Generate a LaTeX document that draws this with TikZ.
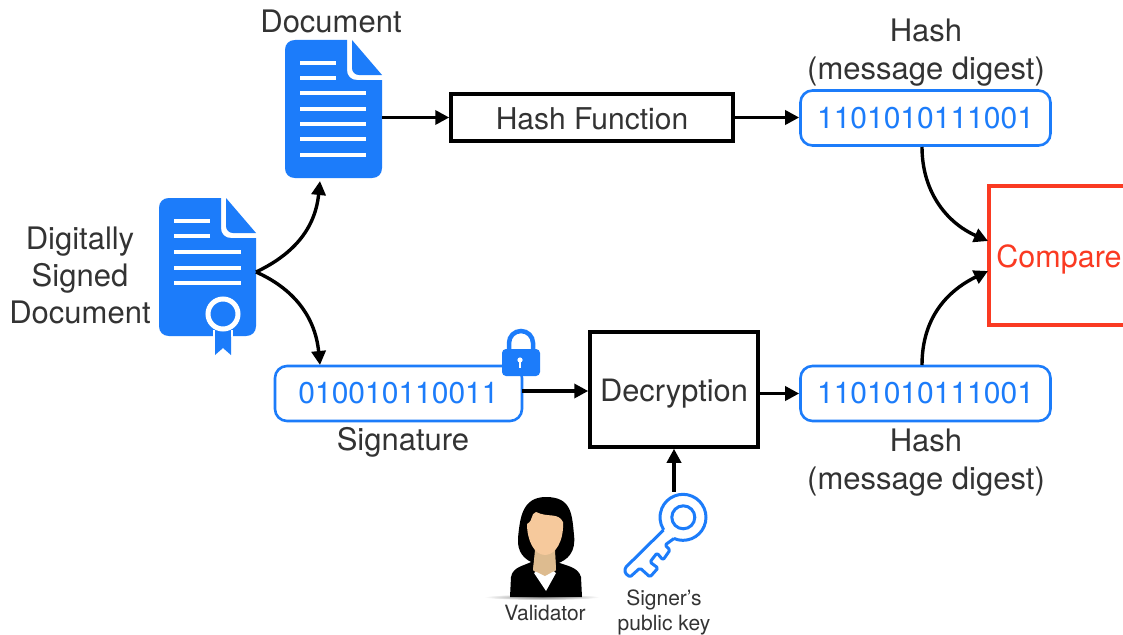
\documentclass[tikz,border=0pt]{standalone}
\usepackage{fontspec}
\setmainfont{TeX Gyre Heros}
\usetikzlibrary{arrows.meta}
\definecolor{iconblue}{HTML}{1C7CFA}
\definecolor{txt}{HTML}{333333}
\definecolor{cmpred}{HTML}{FA3A22}
\definecolor{skin}{HTML}{F6C99C}
\definecolor{neck}{HTML}{DDBB8F}
\tikzset{
  x=1pt,y=-1pt,
  conn/.style={draw=black,line width=3.4pt,-{Triangle[length=14pt,width=14pt]}},
  blackbox/.style={draw=black,line width=3.5pt,inner sep=0pt,text=txt,text height=24pt,text depth=0pt},
  bluebox/.style={draw=iconblue,line width=2.6pt,rounded corners=12pt,inner sep=0pt,minimum height=55pt,minimum width=250pt,text=iconblue,font=\fontsize{30}{30}\selectfont},
  lab/.style={text=txt,align=center,inner sep=0pt,font=\fontsize{31}{38}\selectfont},
  smalllab/.style={text=txt,align=center,inner sep=0pt,font=\fontsize{21}{25}\selectfont},
  iconnode/.style={inner sep=0pt,minimum width=97pt,minimum height=138pt},
  wline/.style={white,line width=3.6pt},
}
\newcommand{\pageicon}[2]{%
 \begin{scope}[shift={(#1,#2)}]
  \fill[iconblue] (0,10) .. controls (0,4) and (4,0) .. (10,0) -- (62,0) -- (62,30) .. controls (62,36) and (66,40) .. (72,40) -- (97,40) -- (97,128) .. controls (97,134) and (93,138) .. (87,138) -- (10,138) .. controls (4,138) and (0,134) .. (0,128) -- cycle;
  \fill[iconblue] (67,0) -- (97,35) -- (74,35) .. controls (70,35) and (67,32) .. (67,28) -- cycle;
  \foreach \y in {23,38}{\draw[wline] (15,\y) -- (51,\y);}
 \end{scope}}
\begin{document}
\begin{tikzpicture}
\useasboundingbox (0,0) rectangle (1123,634);
\fill[white] (0,0) rectangle (1123,634);
% document icon
\node[iconnode] (doc) at (333.5,109) {};
\pageicon{285}{40}
\foreach \y in {93,109,124,139,155}{\draw[wline] (300,\y) -- (366,\y);}
% certificate icon
\node[iconnode] (cert) at (207.5,267) {};
\pageicon{159}{198}
\foreach \y in {252,268,283}{\draw[wline] (174,\y) -- (241,\y);}
\fill[iconblue] (215,325) -- (231,325) -- (231,355) -- (223,348) -- (215,355) -- cycle;
\draw[white,line width=2pt] (214,330) -- (214,337);
\draw[white,line width=2pt] (232,330) -- (232,337);
\draw[white,line width=5pt,fill=iconblue] (223,314) circle[radius=15];
% labels
\node[lab] (ldoc) at (331,21) {Document};
\node[lab,font=\fontsize{31}{37}\selectfont] (lsign) at (80,275.5) {Digitally\\Signed\\Document};
\node[lab] (lh1) at (926,53) {Hash\\(message digest)};
\node[lab] (lsig) at (403,442) {Signature};
\node[lab] (lh2) at (926,463) {Hash\\(message digest)};
% boxes
\node[blackbox,minimum width=282pt,minimum height=47pt,font=\fontsize{30}{30}\selectfont] (hf) at (592,117.5) {Hash Function};
\node[bluebox] (h1) at (925.5,118) {1101010111001};
\node[bluebox,minimum width=247pt] (sig) at (398.5,393.5) {010010110011};
\node[bluebox] (h2) at (925.5,393.5) {1101010111001};
\node[blackbox,minimum width=168pt,minimum height=115pt,font=\fontsize{30.8}{31}\selectfont] (dec) at (674,389.5) {Decryption};
\node[draw=cmpred,line width=3.5pt,minimum width=150pt,minimum height=139pt,inner sep=0pt] (cmp) at (1064,255.5) {};
\node[text=cmpred,inner sep=0pt,font=\fontsize{30.5}{31}\selectfont] (cmpt) at (1059,259) {Compare};
% lock
\node[inner sep=0pt,minimum width=38pt,minimum height=48pt] (lock) at (521,352) {};
\draw[iconblue,line width=4.5pt] (509,352) -- (509,343) arc[start angle=180,end angle=360,radius=12] -- (533,352);
\fill[iconblue,rounded corners=4pt] (502,349) rectangle (540,376);
\fill[white] (520,360) circle[radius=2.6];
\draw[white,line width=1.6pt] (520,360) -- (520,368);
% person
\node[inner sep=0pt,minimum width=72pt,minimum height=100pt] (person) at (546,547) {};
\shade[inner color=black!50,outer color=white] (542,597) ellipse[x radius=58,y radius=3];
\fill[black] (510,597) -- (511,577) .. controls (513,566) and (525,566) .. (535,560) -- (552,560) .. controls (565,566) and (578,566) .. (581,577) -- (582,597) -- cycle;
\fill[black] (546,497) .. controls (522,497) and (520,518) .. (518,538) .. controls (517,552) and (524,560) .. (536,564) -- (556,564) .. controls (568,560) and (576,552) .. (574,535) .. controls (572,515) and (572,497) .. (546,497) -- cycle;
\fill[neck] (535,550) -- (555,550) -- (556,570) -- (545,580) -- (533,570) -- cycle;
\fill[white] (534,573) -- (545,566) -- (556,573) -- (546,591) -- cycle;
\fill[neck] (535,556) -- (555,556) -- (556,570) -- (545,576) -- (533,570) -- cycle;
\fill[skin] (527,524) .. controls (534,520) and (530,514) .. (536,512) .. controls (548,518) and (558,512) .. (563,522) .. controls (564,540) and (556,555) .. (545,555) .. controls (534,555) and (527,540) .. (527,524) -- cycle;
% key
\node[inner sep=0pt,minimum width=82pt,minimum height=90pt] (key) at (665,537) {};
\draw[iconblue,line width=3pt] (683.3,517.3) circle[radius=11.5];
\draw[iconblue,line width=3pt,line join=round,rounded corners=1.5pt] (674,538.5) -- (665,545) -- (670,550) -- (663,560) -- (657,553) -- (650,562) -- (658,568) -- (650,577) -- (640,568) -- (630,577) -- (625,573) -- (625,568) -- (663.5,530);
\draw[iconblue,line width=3pt] (674,538.5) arc[start angle=113,end angle=-213,radius=23];
% labels under icons
\node[smalllab] (lval) at (545,613) {Validator};
\node[smalllab] (lkey) at (664,612) {Signer's\\public key};
% connectors
\coordinate (h1out) at (922,147);
\coordinate (h2out) at (922,365);
\coordinate (in1) at (988,241);
\coordinate (in2) at (988,271);
\coordinate (certout) at (256,272);
\coordinate (sigout) at (522,391);
\draw[conn] (certout) .. controls (292,255) and (315,230) .. (320,181);
\draw[conn] (certout) .. controls (292,288) and (315,315) .. (320,365);
\draw[conn] (doc.east |- hf.west) -- (hf.west);
\draw[conn] (hf.east) -- (h1.west |- hf.east);
\draw[conn] (sigout) -- (dec.west |- sigout);
\draw[conn] (dec.east |- h2.west) -- (h2.west);
\draw[conn] (key.north -| dec.south) -- (dec.south);
\draw[conn] (h1out) .. controls (922,190) and (945,222) .. (in1);
\draw[conn] (h2out) .. controls (922,320) and (945,292) .. (in2);
\end{tikzpicture}
\end{document}
